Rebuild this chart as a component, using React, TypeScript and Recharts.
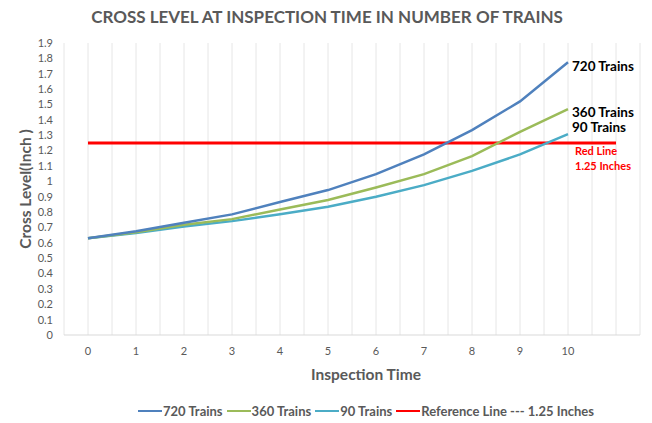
import { CartesianGrid, Label, Legend, Line, LineChart, XAxis, YAxis } from 'recharts'

const inspectionTimes = [0, 1, 2, 3, 4, 5, 6, 7, 8, 9, 10, 11]
const trains720 = [0.63, 0.675, 0.73, 0.785, 0.865, 0.943, 1.047, 1.175, 1.333, 1.52, 1.775]
const trains360 = [0.63, 0.668, 0.717, 0.754, 0.817, 0.878, 0.96, 1.047, 1.164, 1.322, 1.47]
const trains90 = [0.63, 0.663, 0.706, 0.741, 0.785, 0.834, 0.899, 0.975, 1.068, 1.175, 1.307]
const referenceLine = [1.25, 1.25, 1.25, 1.25, 1.25, 1.25, 1.25, 1.25, 1.25, 1.25, 1.25, 1.25]

const xTicks = [0, 1, 2, 3, 4, 5, 6, 7, 8, 9, 10]
const yTicks = [0, 0.1, 0.2, 0.3, 0.4, 0.5, 0.6, 0.7, 0.8, 0.9, 1, 1.1, 1.2, 1.3, 1.4, 1.5, 1.6, 1.7, 1.8, 1.9]
const gridValues = [-0.5, 0, 0.5, 1, 1.5, 2, 2.5, 3, 3.5, 4, 4.5, 5, 5.5, 6, 6.5, 7, 7.5, 8, 8.5, 9, 9.5, 10, 10.5, 11, 11.5]

const data = inspectionTimes.map((time, i) => ({
  time,
  t720: trains720[i],
  t360: trains360[i],
  t90: trains90[i],
  ref: referenceLine[i],
}))

const legendItems = [
  { label: '720 Trains', color: '#4f81bd' },
  { label: '360 Trains', color: '#9bbb59' },
  { label: '90 Trains', color: '#4bacc6' },
  { label: 'Reference Line --- 1.25 Inches', color: '#ff0000' },
]

const font = 'Lato, "Open Sans", sans-serif'
const gray = '#595959'

function endLabel(text: string, dy: number) {
  return (props: any) => {
    if (props.index !== 10) return null
    return (
      <text x={props.x + 4} y={props.y + dy} fontFamily={font} fontSize={13.5} fontWeight={700} fill="#000">
        {text}
      </text>
    )
  }
}

function redNote(props: any) {
  if (props.index !== 10) return null
  return (
    <g fontFamily={font} fontWeight={700} fill="#ff0000" fontSize={11}>
      <text x={props.x + 7} y={props.y + 12}>Red Line</text>
      <text x={props.x + 7} y={props.y + 27}>1.25 Inches</text>
    </g>
  )
}

function renderLegend() {
  return (
    <div style={{ display: 'flex', height: 16, alignItems: 'center', fontFamily: font, fontWeight: 700, fontSize: 13, color: gray }}>
      {legendItems.map((item) => (
        <div key={item.label} style={{ display: 'flex', alignItems: 'center', marginRight: 4 }}>
          <span style={{ display: 'inline-block', width: 24, height: 2.5, background: item.color, marginRight: 1 }} />
          <span>{item.label}</span>
        </div>
      ))}
    </div>
  )
}

function xAxisTitle(props: any) {
  const vb = props.viewBox
  return (
    <text
      x={vb.x + vb.width / 2 + 14}
      y={vb.y + 45}
      textAnchor="middle"
      fontFamily={font}
      fontSize={15.5}
      fontWeight={700}
      fill={gray}
    >
      Inspection Time
    </text>
  )
}

export default function App() {
  return (
    <div style={{ position: 'absolute', left: 0, top: 0, background: '#fff' }}>
      <LineChart width={652} height={423} data={data} margin={{ top: 43, right: 12, bottom: 42, left: 0 }}>
        <text x={327} y={23} textAnchor="middle" fontFamily={font} fontSize={17} fontWeight={700} fill={gray}>
          CROSS LEVEL AT INSPECTION TIME IN NUMBER OF TRAINS
        </text>
        <CartesianGrid horizontal={false} verticalValues={gridValues} stroke="#e6e6e6" strokeWidth={1} />
        <XAxis
          dataKey="time"
          type="number"
          domain={[-0.5, 11.5]}
          ticks={xTicks}
          interval={0}
          height={30}
          tickLine={false}
          tickSize={0}
          tickMargin={12}
          axisLine={{ stroke: '#d9d9d9' }}
          tick={{ fill: gray, fontSize: 11, fontFamily: font }}
        >
          <Label content={xAxisTitle} />
        </XAxis>
        <YAxis
          type="number"
          domain={[0, 1.9]}
          ticks={yTicks}
          interval={0}
          width={64}
          axisLine={false}
          tickLine={false}
          tickSize={0}
          tickMargin={11}
          tick={{ fill: gray, fontSize: 11, fontFamily: font }}
        >
          <Label
            value="Cross Level(Inch )"
            angle={-90}
            position="insideLeft"
            offset={25}
            style={{ textAnchor: 'middle', fill: gray, fontSize: 15.5, fontWeight: 700, fontFamily: font }}
          />
        </YAxis>
        <Legend verticalAlign="bottom" wrapperStyle={{ left: 138, width: 480, bottom: 4 }} content={renderLegend} />
        <Line dataKey="ref" stroke="#ff0000" strokeWidth={3} dot={false} isAnimationActive={false} label={redNote} />
        <Line dataKey="t90" stroke="#4bacc6" strokeWidth={2.5} dot={false} isAnimationActive={false} label={endLabel('90 Trains', -2)} />
        <Line dataKey="t360" stroke="#9bbb59" strokeWidth={2.5} dot={false} isAnimationActive={false} label={endLabel('360 Trains', 8)} />
        <Line dataKey="t720" stroke="#4f81bd" strokeWidth={2.5} dot={false} isAnimationActive={false} label={endLabel('720 Trains', 9)} />
      </LineChart>
    </div>
  )
}
